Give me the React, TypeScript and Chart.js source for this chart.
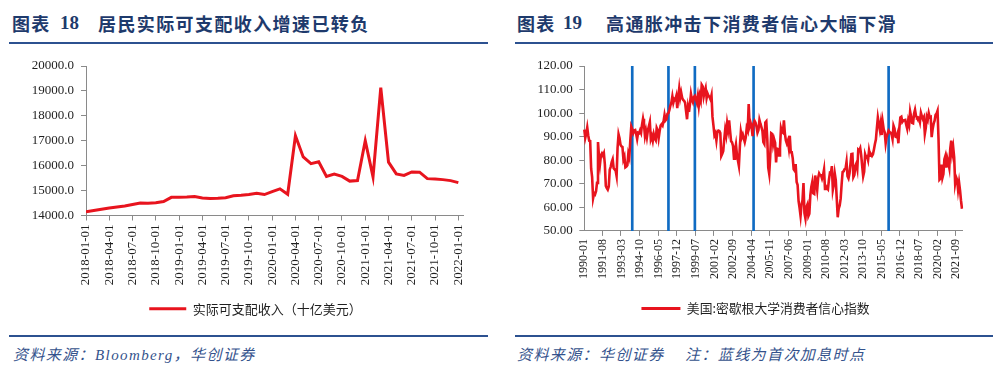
import React, { useEffect, useRef } from 'react';
import { Chart, registerables } from 'chart.js';

Chart.register(...registerables);

// ---------- helpers for category labels ----------
function monthLabels(startYear: number, startMonth: number, count: number, withDay: boolean): string[] {
  const out: string[] = [];
  let y = startYear;
  let m = startMonth;
  for (let i = 0; i < count; i++) {
    const mm = m < 10 ? '0' + m : '' + m;
    out.push(withDay ? `${y}-${mm}-01` : `${y}-${mm}`);
    m++;
    if (m > 12) { m = 1; y++; }
  }
  return out;
}

// ---------- Chart 18 data ----------
const INCOME_MONTHS = monthLabels(2018, 1, 49, true); // 2018-01-01 .. 2022-01-01
const INCOME_VALUES = [
  14150, 14200, 14250, 14300, 14340, 14380, 14440, 14500, 14490, 14510, 14560, 14730,
  14730, 14740, 14760, 14700, 14680, 14690, 14710, 14790, 14810, 14840, 14890, 14840,
  14960, 15070, 14850, 17200, 16350, 16080, 16160, 15570, 15660, 15570, 15380, 15400,
  17000, 15550, 19130, 16140, 15670, 15610, 15750, 15740, 15480, 15460, 15440, 15400,
  15320,
];
const INCOME_Y_MIN = 14000;
const INCOME_Y_MAX = 20000;
const INCOME_Y_STEP = 1000;
const INCOME_TICK_EVERY = 3;
const INCOME_LEGEND = '实际可支配收入（十亿美元）';

// ---------- Chart 19 data ----------
const CS_MONTHS = monthLabels(1990, 1, 387, false); // 1990-01 .. 2022-03
const CS_1990s = [
  93.0, 89.5, 91.3, 93.9, 90.6, 88.3, 88.2, 76.4, 72.8, 63.9, 66.0, 65.5,
  66.8, 70.4, 87.7, 81.8, 78.3, 82.1, 82.9, 82.0, 83.0, 78.3, 69.1, 68.2,
  67.5, 68.8, 76.0, 77.2, 79.2, 80.4, 76.6, 76.1, 75.6, 73.3, 85.3, 91.0,
  89.3, 86.6, 85.9, 85.6, 80.3, 81.5, 77.0, 77.3, 77.9, 82.7, 81.2, 88.2,
  94.3, 93.2, 91.5, 92.6, 92.8, 91.2, 89.0, 91.7, 91.5, 92.7, 91.6, 95.1,
  97.6, 95.1, 90.3, 92.5, 89.8, 92.7, 94.4, 96.2, 88.9, 90.2, 88.2, 91.0,
  89.3, 88.5, 93.7, 92.7, 89.4, 92.4, 94.7, 95.3, 94.7, 96.5, 99.2, 96.9,
  97.4, 99.7, 100.0, 101.4, 103.2, 104.5, 107.1, 104.4, 106.0, 105.6, 107.2, 102.1,
  106.6, 110.4, 106.5, 108.7, 106.5, 105.6, 105.2, 104.4, 100.9, 97.4, 102.7, 100.5,
  103.9, 108.1, 105.7, 104.6, 106.8, 107.3, 106.0, 104.5, 107.2, 103.2, 107.2, 105.4,
];
const CS_2000s = [
  112.0, 111.3, 107.1, 109.2, 110.7, 106.4, 108.3, 107.3, 106.8, 105.8, 107.6, 98.4,
  94.7, 90.6, 91.5, 88.4, 92.0, 92.6, 92.4, 91.5, 81.8, 82.7, 83.9, 88.8,
  93.0, 90.7, 95.7, 93.0, 96.9, 92.4, 88.1, 87.6, 86.1, 80.6, 84.2, 86.7,
  82.4, 79.9, 77.6, 86.0, 92.1, 89.7, 90.9, 89.3, 87.7, 89.6, 93.7, 92.6,
  103.8, 94.4, 95.8, 94.2, 90.2, 95.6, 96.7, 95.9, 94.2, 91.7, 92.8, 97.1,
  95.5, 94.1, 92.6, 87.7, 86.9, 96.0, 96.5, 89.1, 76.9, 74.2, 81.6, 91.5,
  91.2, 86.7, 88.9, 87.4, 79.1, 84.9, 84.7, 82.0, 85.4, 93.6, 92.1, 91.7,
  96.9, 91.3, 88.4, 87.1, 88.3, 85.3, 90.4, 83.4, 83.4, 80.9, 76.1, 75.5,
  78.4, 70.8, 69.5, 62.6, 59.8, 56.4, 61.2, 63.0, 70.3, 57.6, 55.3, 60.1,
  61.2, 56.3, 57.3, 65.1, 68.7, 70.8, 66.0, 65.7, 73.5, 70.6, 67.4, 72.5,
];
const CS_2010s = [
  74.4, 73.6, 73.6, 72.2, 73.6, 76.0, 67.8, 68.9, 68.2, 67.7, 71.6, 74.5,
  74.2, 77.5, 67.5, 69.8, 74.3, 71.5, 63.7, 55.8, 59.5, 60.8, 63.7, 69.9,
  75.0, 75.3, 76.2, 76.4, 79.3, 73.2, 72.3, 74.3, 78.3, 82.6, 82.7, 72.9,
  73.8, 77.6, 78.6, 76.4, 84.5, 84.1, 85.1, 82.1, 77.5, 73.2, 75.1, 82.5,
  81.2, 81.6, 80.0, 84.1, 81.9, 82.5, 81.8, 82.5, 84.6, 86.9, 88.8, 93.6,
  98.1, 95.4, 93.0, 95.9, 90.7, 96.1, 93.1, 91.9, 87.2, 90.0, 91.3, 92.6,
  92.0, 91.7, 91.0, 89.0, 94.7, 93.5, 90.0, 89.8, 91.2, 87.2, 93.8, 98.2,
  98.5, 96.3, 96.9, 97.0, 97.1, 95.1, 93.4, 96.8, 95.1, 100.7, 98.5, 95.9,
  95.7, 99.7, 101.4, 98.8, 98.0, 98.2, 97.9, 96.2, 100.1, 98.6, 97.5, 98.3,
  91.2, 93.8, 98.4, 97.2, 100.0, 98.2, 98.4, 89.8, 93.2, 95.5, 96.8, 99.3,
];
const CS_2020s = [
  99.8, 101.0, 89.1, 71.8, 72.3, 78.1, 72.5, 74.1, 80.4, 81.8, 76.9, 80.7,
  79.0, 76.8, 84.9, 88.3, 82.9, 85.5, 81.2, 70.3, 72.8, 71.7, 67.4, 70.6,
  67.2, 62.8, 59.4,
];
const CS_VALUES = [...CS_1990s, ...CS_2000s, ...CS_2010s, ...CS_2020s];
const CS_TICKS = [
  '1990-01', '1991-08', '1993-03', '1994-10', '1996-05', '1997-12', '1999-07',
  '2001-02', '2002-09', '2004-04', '2005-11', '2007-06', '2009-01', '2010-08',
  '2012-03', '2013-10', '2015-05', '2016-12', '2018-07', '2020-02', '2021-09',
];
const HIKE_MONTHS = ['1994-02', '1997-03', '1999-06', '2004-06', '2015-12'];
const CS_Y_MIN = 50;
const CS_Y_MAX = 120;
const CS_Y_STEP = 10;
const CS_LEGEND = '美国:密歇根大学消费者信心指数';

// ---------- styles ----------
const RED = '#E8141E';
const BLUE_LINE = '#0F6BC3';
const AXIS = '#8A8A8A';
const TICK_TEXT = '#1f1f1f';
const NAVY = '#1E3A6C';
const RULE = '#2C5190';
const SOURCE = '#34528C';
const SERIF = '"Liberation Serif", "Times New Roman", serif';
const CJK = '"Noto Sans CJK SC", "Noto Sans", sans-serif';

// moves the (full-width) legend sideways to sit where the reference has it
function legendShift(dx: number) {
  return {
    id: 'legendShift',
    afterLayout(chart: any) {
      const l = chart.legend;
      if (l) { l.left += dx; l.right += dx; }
    },
  };
}

function IncomeChart() {
  const ref = useRef<HTMLCanvasElement | null>(null);
  useEffect(() => {
    if (!ref.current) return;
    const chart = new Chart(ref.current, {
      type: 'line',
      data: {
        datasets: [
          {
            label: INCOME_LEGEND,
            data: INCOME_VALUES.map((v, i) => ({ x: i, y: v })),
            borderColor: RED,
            backgroundColor: RED,
            borderWidth: 3,
            pointRadius: 0,
            tension: 0,
            fill: false,
          },
        ],
      },
      plugins: [legendShift(24)],
      options: {
        responsive: false,
        animation: false,
        devicePixelRatio: 1,
        events: [],
        layout: { padding: { top: 16, right: 37, left: 0, bottom: 4.75 } },
        plugins: {
          tooltip: { enabled: false },
          legend: {
            position: 'bottom',
            labels: {
              boxWidth: 37,
              boxHeight: 3,
              padding: 10,
              color: TICK_TEXT,
              font: { family: CJK, size: 13 },
              generateLabels: () => [
                { text: INCOME_LEGEND, fillStyle: RED, strokeStyle: RED, lineWidth: 0, hidden: false, datasetIndex: 0, fontColor: TICK_TEXT } as any,
              ],
            },
          },
        },
        scales: {
          x: {
            type: 'linear',
            min: 0,
            max: INCOME_VALUES.length - 1 + 0.6,
            offset: false,
            grid: { drawOnChartArea: false, drawTicks: true, tickLength: 5, tickColor: AXIS },
            border: { display: true, color: AXIS, width: 1 },
            ticks: {
              stepSize: INCOME_TICK_EVERY,
              includeBounds: false,
              autoSkip: false,
              maxRotation: 90,
              minRotation: 90,
              padding: 4,
              color: TICK_TEXT,
              font: { family: SERIF, size: 13 },
              callback: (v: any) => INCOME_MONTHS[Number(v)] ?? '',
            },
            afterFit: (s: any) => { s.height = 76.75; },
          },
          y: {
            min: INCOME_Y_MIN,
            max: INCOME_Y_MAX,
            grid: { drawOnChartArea: false, drawTicks: true, tickLength: 5, tickColor: AXIS },
            border: { display: true, color: AXIS, width: 1 },
            ticks: {
              stepSize: INCOME_Y_STEP,
              padding: 7,
              color: TICK_TEXT,
              font: { family: SERIF, size: 13 },
              callback: (v: any) => Number(v).toFixed(1),
            },
            afterFit: (s: any) => { s.width = 86; },
          },
        },
      },
    } as any);
    return () => chart.destroy();
  }, []);
  return <canvas ref={ref} width={500} height={280} style={{ position: 'absolute', left: 0, top: 50, width: 500, height: 280 }} />;
}

function SentimentChart() {
  const ref = useRef<HTMLCanvasElement | null>(null);
  useEffect(() => {
    if (!ref.current) return;
    const tickSet = new Set(CS_TICKS);
    const hikeSet = new Set(HIKE_MONTHS);
    const chart = new Chart(ref.current, {
      type: 'line',
      data: {
        labels: CS_MONTHS,
        datasets: [
          {
            type: 'line',
            label: CS_LEGEND,
            data: CS_VALUES,
            borderColor: RED,
            backgroundColor: RED,
            borderWidth: 2.6,
            pointRadius: 0,
            tension: 0,
            fill: false,
          },
          {
            type: 'bar',
            label: 'hike',
            data: CS_MONTHS.map((m) => (hikeSet.has(m) ? CS_Y_MAX : null)),
            backgroundColor: BLUE_LINE,
            borderWidth: 0,
            barThickness: 2,
          },
        ],
      },
      plugins: [legendShift(24.5)],
      options: {
        responsive: false,
        animation: false,
        devicePixelRatio: 1,
        events: [],
        layout: { padding: { top: 16, right: 38, left: 0, bottom: 5 } },
        plugins: {
          tooltip: { enabled: false },
          legend: {
            position: 'bottom',
            labels: {
              boxWidth: 39,
              boxHeight: 3,
              padding: 10,
              color: TICK_TEXT,
              font: { family: CJK, size: 12.8 },
              generateLabels: () => [
                { text: CS_LEGEND, fillStyle: RED, strokeStyle: RED, lineWidth: 0, hidden: false, datasetIndex: 0, fontColor: TICK_TEXT } as any,
              ],
            },
          },
        },
        scales: {
          x: {
            type: 'category',
            offset: false,
            grid: {
              drawOnChartArea: false,
              drawTicks: true,
              tickLength: 5,
              tickColor: (ctx: any) => (tickSet.has(CS_MONTHS[ctx.index]) ? AXIS : 'rgba(0,0,0,0)'),
            },
            border: { display: true, color: AXIS, width: 1 },
            ticks: {
              autoSkip: false,
              maxRotation: 90,
              minRotation: 90,
              padding: 3,
              color: TICK_TEXT,
              font: { family: SERIF, size: 12 },
              callback: (_v: any, i: number) => (tickSet.has(CS_MONTHS[i]) ? CS_MONTHS[i] : ''),
            },
            afterFit: (s: any) => { s.height = 61.3; },
          },
          y: {
            min: CS_Y_MIN,
            max: CS_Y_MAX,
            grid: { drawOnChartArea: false, drawTicks: true, tickLength: 5, tickColor: AXIS },
            border: { display: true, color: AXIS, width: 1 },
            ticks: {
              stepSize: CS_Y_STEP,
              padding: 6.5,
              color: TICK_TEXT,
              font: { family: SERIF, size: 13 },
              callback: (v: any) => Number(v).toFixed(2),
            },
            afterFit: (s: any) => { s.width = 84.3; },
          },
        },
      },
    } as any);
    return () => chart.destroy();
  }, []);
  return <canvas ref={ref} width={500} height={280} style={{ position: 'absolute', left: 500, top: 50, width: 500, height: 280 }} />;
}

function Title(props: { x: number; num: string; numX: number; text: string; textX: number }) {
  const common: React.CSSProperties = {
    position: 'absolute',
    top: 13,
    lineHeight: '20px',
    fontSize: 18,
    fontWeight: 700,
    color: NAVY,
    whiteSpace: 'nowrap',
  };
  return (
    <>
      <div style={{ ...common, left: props.x, fontFamily: CJK, letterSpacing: 1.2 }}>图表</div>
      <div style={{ ...common, left: props.numX, fontFamily: SERIF, fontSize: 19 }}>{props.num}</div>
      <div style={{ ...common, left: props.textX, fontFamily: CJK, letterSpacing: 1.4 }}>{props.text}</div>
    </>
  );
}

function Rule(props: { x: number; y: number; w: number }) {
  return <div style={{ position: 'absolute', left: props.x, top: props.y, width: props.w, height: 2, background: RULE }} />;
}

function Source(props: { x: number; text: string }) {
  return (
    <div
      style={{
        position: 'absolute',
        left: props.x,
        top: 347,
        lineHeight: '16px',
        fontSize: 15,
        fontStyle: 'italic',
        fontFamily: `${SERIF.split(',')[0]}, ${CJK}`,
        color: SOURCE,
        letterSpacing: 1.4,
        whiteSpace: 'nowrap',
      }}
    >
      {props.text}
    </div>
  );
}

export default function App() {
  return (
    <div style={{ position: 'absolute', left: 0, top: 0, width: 1000, height: 370, background: '#fff', overflow: 'hidden' }}>
      <Title x={12} num="18" numX={60} text="居民实际可支配收入增速已转负" textX={98} />
      <Title x={517} num="19" numX={563} text="高通胀冲击下消费者信心大幅下滑" textX={606} />
      <Rule x={9} y={41.5} w={479} />
      <Rule x={515} y={41.5} w={478} />
      <IncomeChart />
      <SentimentChart />
      <Rule x={9} y={334.5} w={479} />
      <Rule x={515} y={334.5} w={478} />
      <Source x={13} text="资料来源：Bloomberg，华创证券" />
      <Source x={517} text="资料来源：华创证券" />
      <Source x={685} text="注：蓝线为首次加息时点" />
    </div>
  );
}
